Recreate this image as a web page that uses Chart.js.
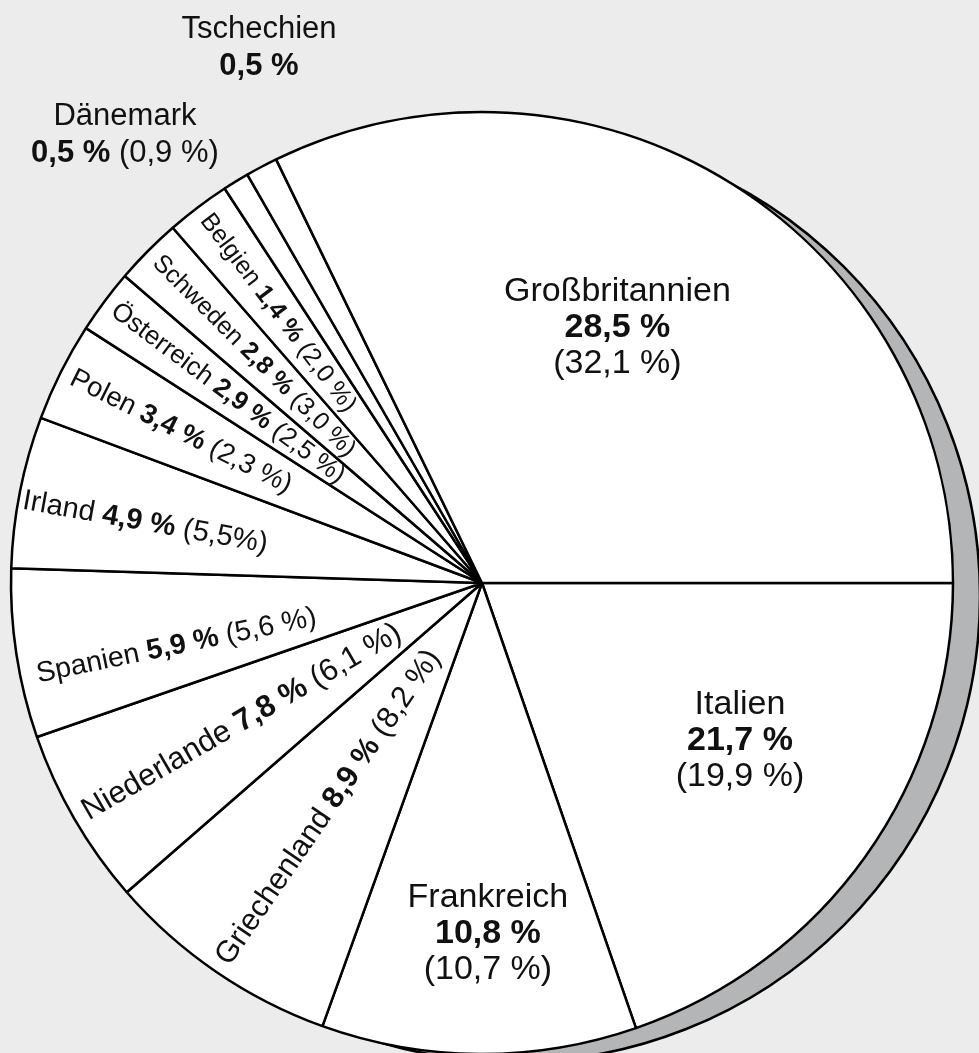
<!DOCTYPE html>
<html lang="de">
<head>
<meta charset="UTF-8">
<title>Anteile nach Ländern</title>
<script src="https://cdn.jsdelivr.net/npm/chart.js"></script>
<style>
  html, body { margin: 0; padding: 0; background: #ececec; overflow: hidden; }
  canvas { display: block; }
</style>
</head>
<body>
<canvas id="pie" width="979" height="1166"></canvas>
<script>
// Länder im Uhrzeigersinn ab 3 Uhr
const countries = ['Italien', 'Frankreich', 'Griechenland', 'Niederlande', 'Spanien', 'Irland', 'Polen',
  'Österreich', 'Schweden', 'Belgien', 'Dänemark', 'Tschechien', 'Großbritannien'];
// aktueller Anteil (fett gedruckt)
const shareNow = [21.7, 10.8, 8.9, 7.8, 5.9, 4.9, 3.4, 2.9, 2.8, 1.4, 0.5, 0.5, 28.5];
// Vorjahreswerte in Klammern
const sharePrev = ['(19,9 %)', '(10,7 %)', '(8,2 %)', '(6,1 %)', '(5,6 %)', '(5,5%)', '(2,3 %)',
  '(2,5 %)', '(3,0 %)', '(2,0 %)', '(0,9 %)', '', '(32,1 %)'];
// Segmentgrößen so wie sie im Bild gezeichnet sind
const sliceSize = [19.7, 10.8, 8.1, 6.1, 5.8, 5.2, 3.4, 2.2, 2.3, 2.2, 0.9, 1.1, 32.2];

// Beschriftung: block = mittig, radial = entlang der Segmentachse, outside = außerhalb
const labelLayout = [
  { mode: 'block', da: -2.6, dist: 0.652, size: 34 },   // Italien
  { mode: 'block', da: -1.3, dist: 0.764, size: 34 },   // Frankreich
  { mode: 'radial', da: 0, size: 30.5, d0: 0.975 },     // Griechenland
  { mode: 'radial', da: 0, size: 31, d0: 0.975 },       // Niederlande
  { mode: 'radial', da: -3, size: 28.5, d0: 0.965 },    // Spanien
  { mode: 'radial', da: -1, size: 29, d0: 0.99 },       // Irland
  { mode: 'radial', da: 0, size: 27.5, d0: 0.975 },     // Polen
  { mode: 'radial', da: 0, size: 26, d0: 0.975 },       // Österreich
  { mode: 'radial', da: 0, size: 25, d0: 0.975 },       // Schweden
  { mode: 'radial', da: 0, size: 25, d0: 0.975 },       // Belgien
  { mode: 'outside', da: -8.8, dist: 1.172, size: 31 }, // Dänemark
  { mode: 'outside', da: 4.2, dist: 1.178, size: 31 },  // Tschechien
  { mode: 'block', da: -3.2, dist: 0.596, size: 34 }    // Großbritannien
];

const FONT = '"Liberation Sans", Arial, Helvetica, sans-serif';
const fmt = v => v.toFixed(1).replace('.', ',') + ' %';
const rad = d => d * Math.PI / 180;

function font(size, bold) {
  return (bold ? 'bold ' : '') + size + 'px ' + FONT;
}

// mehrere Schriftschnitte in einer Zeile
function drawRuns(ctx, runs, x, y, size, align) {
  let total = 0;
  runs.forEach(r => { ctx.font = font(size, r.bold); r.w = ctx.measureText(r.text).width; total += r.w; });
  let cx = align === 'center' ? x - total / 2 : x;
  ctx.textAlign = 'left';
  runs.forEach(r => { ctx.font = font(size, r.bold); ctx.fillText(r.text, cx, y); cx += r.w; });
}

const shadowPlugin = {
  id: 'shadow',
  beforeDatasetsDraw(chart) {
    const arc = chart.getDatasetMeta(0).data[0];
    if (!arc) return;
    const ctx = chart.ctx;
    ctx.save();
    ctx.beginPath();
    ctx.arc(arc.x + 32, arc.y + 13, arc.outerRadius - 5, 0, Math.PI * 2);
    ctx.fillStyle = '#b4b5b7';
    ctx.fill();
    ctx.lineWidth = 2.5;
    ctx.strokeStyle = '#000';
    ctx.stroke();
    ctx.restore();
  }
};

const labelPlugin = {
  id: 'sliceLabels',
  afterDatasetsDraw(chart) {
    const ctx = chart.ctx;
    const arcs = chart.getDatasetMeta(0).data;
    ctx.save();
    ctx.fillStyle = '#111';
    arcs.forEach((arc, i) => {
      const lay = labelLayout[i];
      const mid = (arc.startAngle + arc.endAngle) / 2 + rad(lay.da);
      const r = arc.outerRadius;
      if (lay.mode === 'radial') {
        const d0 = r * lay.d0;
        ctx.save();
        ctx.translate(arc.x + d0 * Math.cos(mid), arc.y + d0 * Math.sin(mid));
        ctx.rotate(mid - Math.PI);
        ctx.textBaseline = 'middle';
        drawRuns(ctx, [
          { text: countries[i] + ' ', bold: false },
          { text: fmt(shareNow[i]), bold: true },
          { text: ' ' + sharePrev[i], bold: false }
        ], 0, 0, lay.size, 'left');
        ctx.restore();
      } else {
        const px = arc.x + lay.dist * r * Math.cos(mid);
        const py = arc.y + lay.dist * r * Math.sin(mid);
        ctx.textBaseline = 'alphabetic';
        ctx.textAlign = 'center';
        ctx.font = font(lay.size, false);
        if (lay.mode === 'block') {
          const lh = 36;
          ctx.fillText(countries[i], px, py - lh);
          ctx.font = font(lay.size, true);
          ctx.fillText(fmt(shareNow[i]), px, py);
          ctx.font = font(lay.size, false);
          ctx.fillText(sharePrev[i], px, py + lh);
        } else {
          const lh = 37;
          ctx.fillText(countries[i], px, py - lh);
          const runs = [{ text: fmt(shareNow[i]), bold: true }];
          if (sharePrev[i]) runs.push({ text: ' ' + sharePrev[i], bold: false });
          drawRuns(ctx, runs, px, py, lay.size, 'center');
        }
      }
    });
    ctx.restore();
  }
};

new Chart(document.getElementById('pie'), {
  type: 'pie',
  data: {
    labels: countries,
    datasets: [{
      data: sliceSize,
      backgroundColor: '#ffffff',
      borderColor: '#000000',
      borderWidth: 2.5
    }]
  },
  options: {
    responsive: false,
    animation: false,
    devicePixelRatio: 1,
    rotation: 90,
    radius: 471,
    layout: { padding: { left: 0, right: 15, top: 0, bottom: 0 } },
    plugins: {
      legend: { display: false },
      tooltip: { enabled: false }
    }
  },
  plugins: [shadowPlugin, labelPlugin]
});
</script>
</body>
</html>
